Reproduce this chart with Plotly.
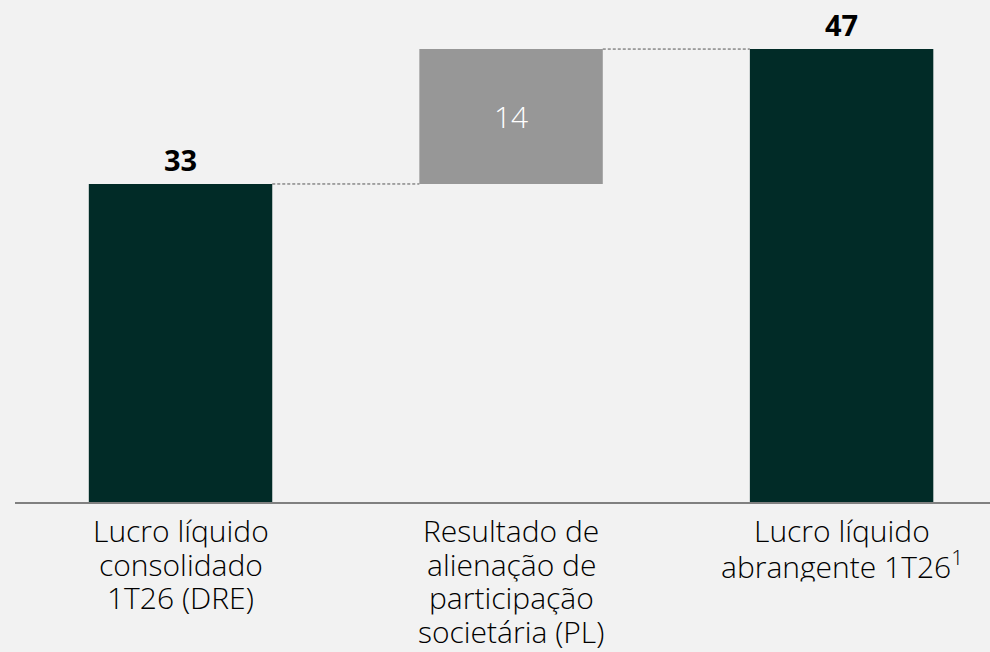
import plotly.graph_objects as go

category_lines = [
    ["Lucro líquido", "consolidado", "1T26 (DRE)"],
    ["Resultado de", "alienação de", "participação", "societária (PL)"],
    ["Lucro líquido", "abrangente 1T26<sup>1</sup>"],
]
start_value = 33
delta_value = 14
end_value = 47
value_labels = ["33", "14", "47"]

GREEN = "#012b27"
GREY = "#979797"
BG = "#f2f2f2"
FONT = "Open Sans"

xs = [0, 1, 2]
w = 0.555

fig = go.Figure()
# totals
fig.add_trace(go.Bar(x=[xs[0], xs[2]], y=[start_value, end_value], width=w,
                     marker=dict(color=GREEN, line=dict(width=0)), hoverinfo="skip"))
# delta
fig.add_trace(go.Bar(x=[xs[1]], y=[delta_value], base=[start_value], width=w,
                     marker=dict(color=GREY, line=dict(width=0)),
                     text=[value_labels[1]], textposition="inside",
                     insidetextanchor="middle", textangle=0,
                     textfont=dict(color="white", size=30, family=FONT, weight=300),
                     hoverinfo="skip"))
# connectors
levels = [start_value, start_value + delta_value]
for i, lvl in enumerate(levels):
    fig.add_trace(go.Scatter(x=[xs[i] + w / 2, xs[i + 1] - w / 2], y=[lvl, lvl],
                             mode="lines", line=dict(color="#555555", width=1, dash="3px,2px"),
                             hoverinfo="skip"))

for xi, v, lab in [(xs[0], start_value, value_labels[0]), (xs[2], end_value, value_labels[2])]:
    fig.add_annotation(x=xi, y=v, text="<b>" + lab + "</b>", showarrow=False,
                       yanchor="bottom", yshift=3,
                       font=dict(size=29, color="black", family=FONT))

# category labels (tight line spacing)
LINE_H = 33.5
for xi, lines in zip(xs, category_lines):
    for j, line in enumerate(lines):
        fig.add_annotation(x=xi, y=0, text=line, showarrow=False,
                           xanchor="center", yanchor="middle", height=LINE_H,
                           yshift=-29 - LINE_H * j,
                           font=dict(size=30, color="black", family=FONT, weight=300))

fig.update_layout(
    width=990, height=652,
    paper_bgcolor=BG, plot_bgcolor=BG,
    margin=dict(l=15, r=0, t=0, b=150),
    barmode="overlay", showlegend=False,
    font=dict(family=FONT, color="black"),
)
fig.update_xaxes(range=[-0.5008, 2.449], tickvals=xs, showticklabels=False,
                 showline=True, linecolor="#808080", linewidth=2,
                 showgrid=False, zeroline=False, ticks="")
fig.update_yaxes(range=[0, 52.09], visible=False, showgrid=False, zeroline=False)

fig.write_html("out.html", config={"displayModeBar": False},
               post_script="document.body.style.margin='0px';")
